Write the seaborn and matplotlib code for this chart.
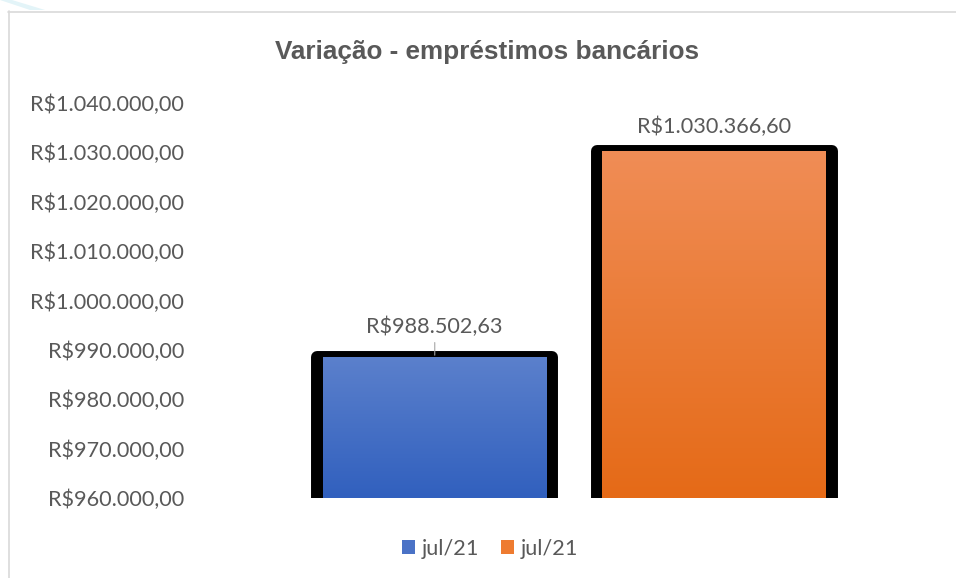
import matplotlib
matplotlib.use("Agg")
import matplotlib.pyplot as plt
import seaborn as sns
import numpy as np
import pandas as pd
from matplotlib.ticker import FuncFormatter, MultipleLocator
from matplotlib.colors import LinearSegmentedColormap
from matplotlib.lines import Line2D
from matplotlib.patches import Rectangle, Polygon

# ---- data ----
title = "Variação - empréstimos bancários"
series_labels = ["jul/21", "jul/21"]
values = [988502.63, 1030366.60]
y_min, y_max, y_step = 960000, 1040000, 10000

# ---- style ----
sns.set_theme(style="white")
plt.rcParams["font.family"] = ["Lato", "DejaVu Sans"]
TXT = "#595959"
FS = 15.6
top_colors = ["#5B80CC", "#F08D56"]
bot_colors = ["#3160BE", "#E56A17"]
mid_colors = ["#4A72C6", "#EE7B30"]


def brl(v):
    s = f"{v:,.2f}"
    return "R$" + s.replace(",", "X").replace(".", ",").replace("X", ".")


df = pd.DataFrame({"pos": [0, 1], "valor": values})

fig = plt.figure(figsize=(9.56, 5.78), dpi=100)
ax = fig.add_axes([295 / 956, 1 - 498 / 578, (854 - 295) / 956, (498 - 103) / 578])

# black shadow/frame behind bars
sns.barplot(data=df, x="pos", y="valor", color="black", width=0.84,
            edgecolor="black", linewidth=8.6, joinstyle="round",
            saturation=1, ax=ax, zorder=1)
n_shadow = len(ax.patches)

# main bars
sns.barplot(data=df, x="pos", y="valor", hue="pos", palette=mid_colors,
            width=0.8, linewidth=0, saturation=1, legend=False, ax=ax, zorder=2)

ax.set_xlim(-0.5, 1.5)
ax.set_ylim(y_min, y_max)

# gradient fill
main_patches = ax.patches[n_shadow:]
for i, p in enumerate(main_patches):
    x0, w = p.get_x(), p.get_width()
    y1 = p.get_y() + p.get_height()
    cmap = LinearSegmentedColormap.from_list("g", [bot_colors[i], top_colors[i]])
    grad = np.linspace(0, 1, 256).reshape(-1, 1)
    im = ax.imshow(grad, extent=[x0, x0 + w, y_min, y1], origin="lower",
                   aspect="auto", cmap=cmap, zorder=3)
    im.set_clip_path(p)

ax.set_xlim(-0.5, 1.5)
ax.set_ylim(y_min, y_max)

ax.yaxis.set_major_locator(MultipleLocator(y_step))
ax.yaxis.set_major_formatter(FuncFormatter(lambda v, _: brl(v)))
ax.tick_params(axis="y", length=0, pad=80, labelsize=FS, labelcolor=TXT)
ax.set_xticks([])
ax.set_xlabel("")
ax.set_ylabel("")
for s in ax.spines.values():
    s.set_visible(False)
ax.grid(False)

# data labels
offsets = [21.8, 17.3]
for i, v in enumerate(values):
    kw = {}
    if i == 0:
        kw["arrowprops"] = dict(arrowstyle="-", color="#A6A6A6", lw=0.8,
                                shrinkA=1.5, shrinkB=1.5)
    ax.annotate(brl(v), xy=(i, v), xytext=(0, offsets[i]),
                textcoords="offset points", ha="center", va="center",
                fontsize=FS, color=TXT, zorder=5, **kw)

# title
fig.text(487 / 956, 1 - 52 / 578, title, ha="center", va="center",
         fontsize=18.8, fontweight="bold", color=TXT,
         family=["Liberation Sans", "DejaVu Sans"])

# legend
handles = [Rectangle((0, 0), 1, 1, facecolor=c, edgecolor="none") for c in mid_colors]
fig.legend(handles, series_labels, loc="center", bbox_to_anchor=(490 / 956, 1 - 549 / 578),
           ncol=2, frameon=False, fontsize=FS, labelcolor=TXT,
           handlelength=0.6, handleheight=0.6, handletextpad=0.3, columnspacing=1.0)

# chart border
fig.add_artist(Line2D([8.5 / 956, 8.5 / 956], [0, 1 - 11 / 578], color="#D9D9D9", lw=1.2))
fig.add_artist(Line2D([8 / 956, 1], [1 - 11.5 / 578, 1 - 11.5 / 578], color="#D9D9D9", lw=1.2))
fig.add_artist(Polygon([[0, 1], [12 / 956, 1], [45 / 956, 1 - 10 / 578], [30 / 956, 1 - 10 / 578]],
                       closed=True, facecolor="#E3F4F8", edgecolor="none",
                       transform=fig.transFigure))

fig.savefig("out.png", dpi=100)
